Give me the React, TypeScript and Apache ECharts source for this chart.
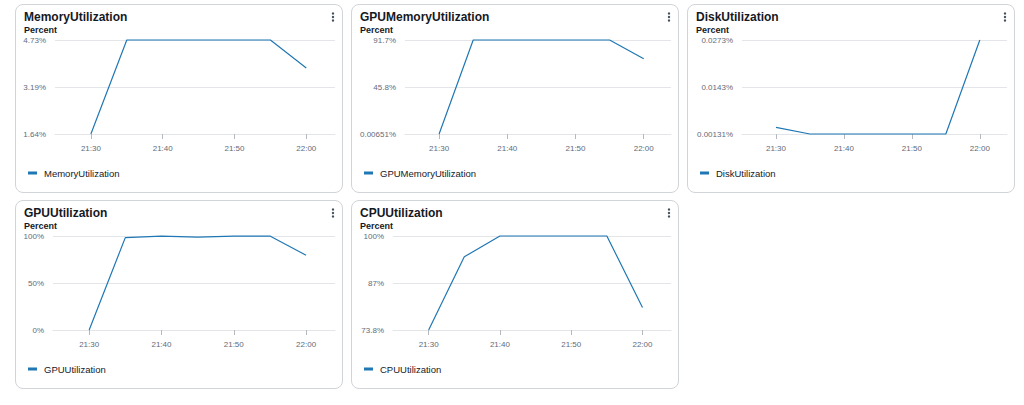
import React, { useEffect, useRef } from "react";
import * as echarts from "echarts";

// ---- data ----
const times = ["21:30", "21:35", "21:40", "21:45", "21:50", "21:55", "22:00"];
const xTickTimes = ["21:30", "21:40", "21:50", "22:00"];
const xRange = ["21:25", "22:04"];
const unitLabel = "Percent";

const memoryValues = [1.64, 4.73, 4.73, 4.73, 4.73, 4.73, 3.81];
const memoryTicks = ["1.64%", "3.19%", "4.73%"];
const memoryRange = [1.64, 4.73];

const gpuMemoryValues = [0.00651, 91.7, 91.7, 91.7, 91.7, 91.7, 73.5];
const gpuMemoryTicks = ["0.00651%", "45.8%", "91.7%"];
const gpuMemoryRange = [0.00651, 91.7];

const diskValues = [0.00316, 0.00131, 0.00131, 0.00131, 0.00131, 0.00131, 0.0273];
const diskTicks = ["0.00131%", "0.0143%", "0.0273%"];
const diskRange = [0.00131, 0.0273];

const gpuValues = [0, 98.3, 99.9, 98.8, 99.9, 99.9, 79.6];
const gpuTicks = ["0%", "50%", "100%"];
const gpuRange = [0, 100];

const cpuValues = [73.8, 94.2, 100, 100, 100, 100, 80.1];
const cpuTicks = ["73.8%", "87%", "100%"];
const cpuRange = [73.8, 100];

const panelNames = ["MemoryUtilization", "GPUMemoryUtilization", "DiskUtilization", "GPUUtilization", "CPUUtilization"];
const panelValues = [memoryValues, gpuMemoryValues, diskValues, gpuValues, cpuValues];
const panelTicks = [memoryTicks, gpuMemoryTicks, diskTicks, gpuTicks, cpuTicks];
const panelRanges = [memoryRange, gpuMemoryRange, diskRange, gpuRange, cpuRange];

// ---- layout ----
const panelPos = [
  [15, 4],
  [351, 4],
  [687, 4],
  [15, 200],
  [351, 200],
];
const gridLefts = [39, 53, 54, 37, 41];
const PANEL_W = 328;
const PANEL_H = 189;
const FONT = "'Liberation Sans', Arial, sans-serif";
const LINE_COLOR = "#1f77b4";

// minutes since midnight
function toMin(t: string): number {
  const [h, m] = t.split(":").map(Number);
  return h * 60 + m;
}

function pad(n: number) {
  return n < 10 ? "0" + n : "" + n;
}

function fmtMin(v: number): string {
  const r = Math.round(v);
  return pad(Math.floor(r / 60)) + ":" + pad(r % 60);
}

function Panel({ idx }: { idx: number }) {
  const ref = useRef<HTMLDivElement>(null);
  useEffect(() => {
    if (!ref.current) return;
    const chart = echarts.init(ref.current, undefined, { renderer: "svg" });
    const name = panelNames[idx];
    const values = panelValues[idx];
    const ticks = panelTicks[idx];
    const [lo, hi] = panelRanges[idx];
    const interval = (hi - lo) / 2;
    const xTicks = xTickTimes.map(toMin);
    chart.setOption({
      animation: false,
      textStyle: { fontFamily: FONT },
      grid: { left: gridLefts[idx], right: 7, top: 35, bottom: 58 },
      graphic: [
        {
          type: "text",
          x: 8,
          y: 12,
          style: { text: name, font: `bold 12px ${FONT}`, fill: "#16191f", verticalAlign: "middle" },
        },
        {
          type: "text",
          x: 8,
          y: 25,
          style: { text: unitLabel, font: `bold 9px ${FONT}`, fill: "#16191f", verticalAlign: "middle" },
        },
        { type: "circle", shape: { cx: 317, cy: 8.5, r: 1.2 }, style: { fill: "#414d5c" } },
        { type: "circle", shape: { cx: 317, cy: 12, r: 1.2 }, style: { fill: "#414d5c" } },
        { type: "circle", shape: { cx: 317, cy: 15.5, r: 1.2 }, style: { fill: "#414d5c" } },
      ],
      legend: {
        left: 12,
        top: 162,
        padding: 0,
        icon: "rect",
        itemWidth: 9,
        itemHeight: 3,
        textStyle: { fontSize: 9.5, color: "#16191f", lineHeight: 12, padding: [0, 0, 0, 2], fontFamily: FONT },
        data: [name],
      },
      xAxis: {
        type: "value",
        min: toMin(xRange[0]),
        max: toMin(xRange[1]),
        axisLine: { show: true, lineStyle: { color: "#e3e5e8", width: 1 } },
        axisTick: {
          show: true,
          length: 5,
          inside: false,
          lineStyle: { color: "#b4b9bf", width: 1 },
          customValues: xTicks,
        },
        axisLabel: {
          customValues: xTicks,
          fontSize: 8,
          color: "#5f6b7a",
          margin: 10,
          fontFamily: FONT,
          formatter: (v: number) => fmtMin(v),
        },
        splitLine: { show: false },
      },
      yAxis: {
        type: "value",
        min: lo,
        max: hi,
        interval,
        axisLine: { show: false },
        axisTick: { show: false },
        splitLine: { show: true, lineStyle: { color: "#e3e5e8", width: 1 } },
        axisLabel: {
          fontSize: 8,
          color: "#5f6b7a",
          margin: 9,
          fontFamily: FONT,
          formatter: (v: number) => {
            const i = Math.round((v - lo) / interval);
            return ticks[Math.max(0, Math.min(ticks.length - 1, i))];
          },
        },
      },
      series: [
        {
          name,
          type: "line",
          showSymbol: false,
          symbol: "none",
          clip: false,
          lineStyle: { color: LINE_COLOR, width: 1.2 },
          itemStyle: { color: LINE_COLOR },
          data: times.map((t, i) => [toMin(t), values[i]]),
        },
      ],
    });
    return () => chart.dispose();
  }, [idx]);

  const [left, top] = panelPos[idx];
  return (
    <div
      style={{
        position: "absolute",
        left,
        top,
        width: PANEL_W,
        height: PANEL_H,
        boxSizing: "border-box",
        border: "1px solid #d1d4d8",
        borderRadius: 8,
        background: "#fff",
        overflow: "hidden",
      }}
    >
      <div ref={ref} style={{ width: PANEL_W - 2, height: PANEL_H - 2 }} />
    </div>
  );
}

export default function App() {
  return (
    <div
      style={{
        position: "absolute",
        left: 0,
        top: 0,
        width: 1024,
        height: 405,
        background: "#fff",
        fontFamily: FONT,
      }}
    >
      {panelNames.map((_, i) => (
        <Panel key={i} idx={i} />
      ))}
    </div>
  );
}
